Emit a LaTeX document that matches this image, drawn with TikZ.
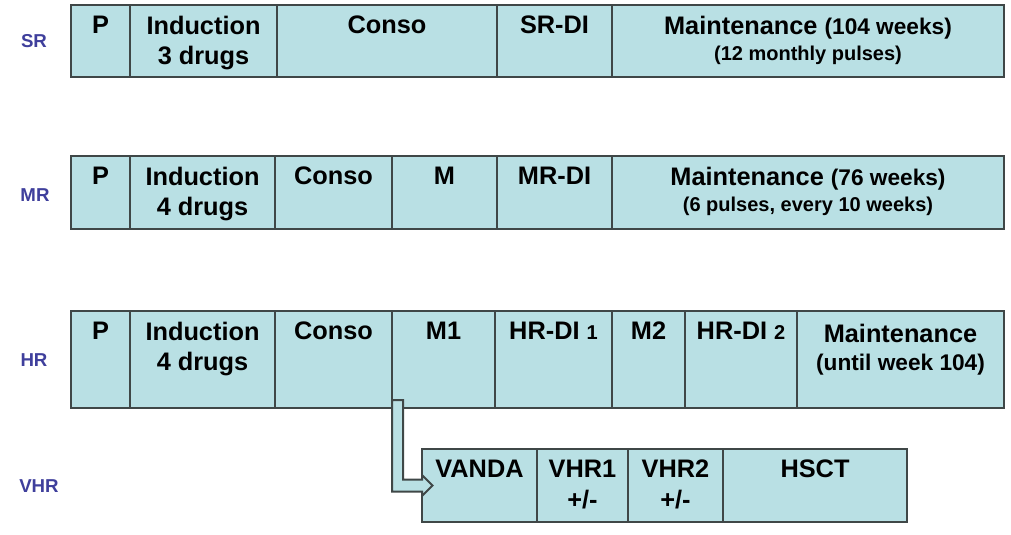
\documentclass[tikz,border=0pt]{standalone}
\usepackage{fontspec}
\setmainfont{Liberation Sans}
\usetikzlibrary{positioning,calc}
\definecolor{cellfill}{HTML}{B9E0E4}
\definecolor{cellline}{HTML}{3F4747}
\definecolor{riskblue}{HTML}{3F3F9C}
\tikzset{
  cell/.style={draw=cellline,fill=cellfill,line width=1.5pt,inner sep=0pt,outer sep=0pt,
    minimum height=54pt},
  tallcell/.style={cell,minimum height=72.75pt},
  toptext/.style={anchor=north,yshift=-8pt,inner sep=0pt,align=center,text=black,
    font=\bfseries\fontsize{19}{23}\selectfont},
  risk/.style={font=\bfseries\fontsize{14}{16}\selectfont,text=riskblue},
  fatarrow/.style={draw=cellline,fill=cellfill,line width=1.5pt,line join=miter}
}
\newcommand{\smalltxt}[1]{{\fontsize{15}{18}\selectfont #1}}
\newcommand{\midtxt}[1]{{\fontsize{17}{20}\selectfont #1}}

\begin{document}
\begin{tikzpicture}[x=0.75pt,y=-0.75pt,node distance=0pt]
  \useasboundingbox (0,0) rectangle (1011,535);
  % standard risk
  \node[risk] (srLab) at (34,41) {SR};
  \node[cell,minimum width=44.25pt,anchor=north west,label={[toptext]north:P}] (srP) at (71,5) {};
  \node[cell,minimum width=110.25pt,right=of srP,label={[toptext]north:Induction\\3 drugs}] (srInd) {};
  \node[cell,minimum width=165pt,right=of srInd,label={[toptext]north:Conso}] (srCon) {};
  \node[cell,minimum width=86.25pt,right=of srCon,label={[toptext]north:SR-DI}] (srDi) {};
  \node[cell,minimum width=294pt,right=of srDi,
    label={[toptext]north:Maintenance \midtxt{(104 weeks)}\\[-3pt]\smalltxt{(12 monthly pulses)}}] (srMain) {};

  % medium risk
  \node[risk] (mrLab) at (35,195) {MR};
  \node[cell,minimum height=54.75pt,minimum width=44.25pt,anchor=north west,label={[toptext]north:P}] (mrP) at (71,156) {};
  \node[cell,minimum height=54.75pt,minimum width=108.75pt,right=of mrP,label={[toptext]north:Induction\\4 drugs}] (mrInd) {};
  \node[cell,minimum height=54.75pt,minimum width=87.75pt,right=of mrInd,label={[toptext]north:Conso}] (mrCon) {};
  \node[cell,minimum height=54.75pt,minimum width=78.75pt,right=of mrCon,label={[toptext]north:M}] (mrM) {};
  \node[cell,minimum height=54.75pt,minimum width=86.25pt,right=of mrM,label={[toptext]north:MR-DI}] (mrDi) {};
  \node[cell,minimum height=54.75pt,minimum width=294pt,right=of mrDi,
    label={[toptext]north:Maintenance \midtxt{(76 weeks)}\\[-3pt]\smalltxt{(6 pulses, every 10 weeks)}}] (mrMain) {};

  % high risk
  \node[risk] (hrLab) at (34,360) {HR};
  \node[tallcell,minimum width=44.25pt,anchor=north west,label={[toptext]north:P}] (hrP) at (71,311) {};
  \node[tallcell,minimum width=108.75pt,right=of hrP,label={[toptext]north:Induction\\4 drugs}] (hrInd) {};
  \node[tallcell,minimum width=87.75pt,right=of hrInd,label={[toptext]north:Conso}] (hrCon) {};
  \node[tallcell,minimum width=77.25pt,right=of hrCon,label={[toptext]north:M1}] (hrMa) {};
  \node[tallcell,minimum width=87.75pt,right=of hrMa,label={[toptext]north:HR-DI \smalltxt{1}}] (hrDiA) {};
  \node[tallcell,minimum width=54.75pt,right=of hrDiA,label={[toptext]north:M2}] (hrMb) {};
  \node[tallcell,minimum width=84pt,right=of hrMb,label={[toptext]north:HR-DI \smalltxt{2}}] (hrDiB) {};
  \node[tallcell,minimum width=155.25pt,right=of hrDiB,
    label={[toptext,yshift=-2pt]north:Maintenance\\[-2pt]\midtxt{(until week 104)}}] (hrMain) {};

  % very high risk
  \node[risk] (vhrLab) at (39,486) {VHR};
  \node[cell,minimum height=54.75pt,minimum width=86.25pt,anchor=north west,label={[toptext]north:VANDA}] (vhrVanda) at (422,449) {};
  \node[cell,minimum height=54.75pt,minimum width=68.25pt,right=of vhrVanda,label={[toptext]north:VHR1\\+/-}] (vhrOne) {};
  \node[cell,minimum height=54.75pt,minimum width=71.25pt,right=of vhrOne,label={[toptext]north:VHR2\\+/-}] (vhrTwo) {};
  \node[cell,minimum height=54.75pt,minimum width=138pt,right=of vhrTwo,label={[toptext]north:HSCT}] (vhrHsct) {};

  % switch from M1 to VANDA
  \coordinate (aTop) at ($(hrMa.south west)+(0,-8)$);
  \draw[fatarrow] (aTop) -- ++(11,0) |- ($(vhrVanda.west)+(0,-6)$) -- ++(0,-4.5)
    -- ($(vhrVanda.west)+(10.5,0)$) -- ($(vhrVanda.west)+(0,10.5)$) -- ++(0,-4.5) -| (aTop) -- cycle;
\end{tikzpicture}
\end{document}
